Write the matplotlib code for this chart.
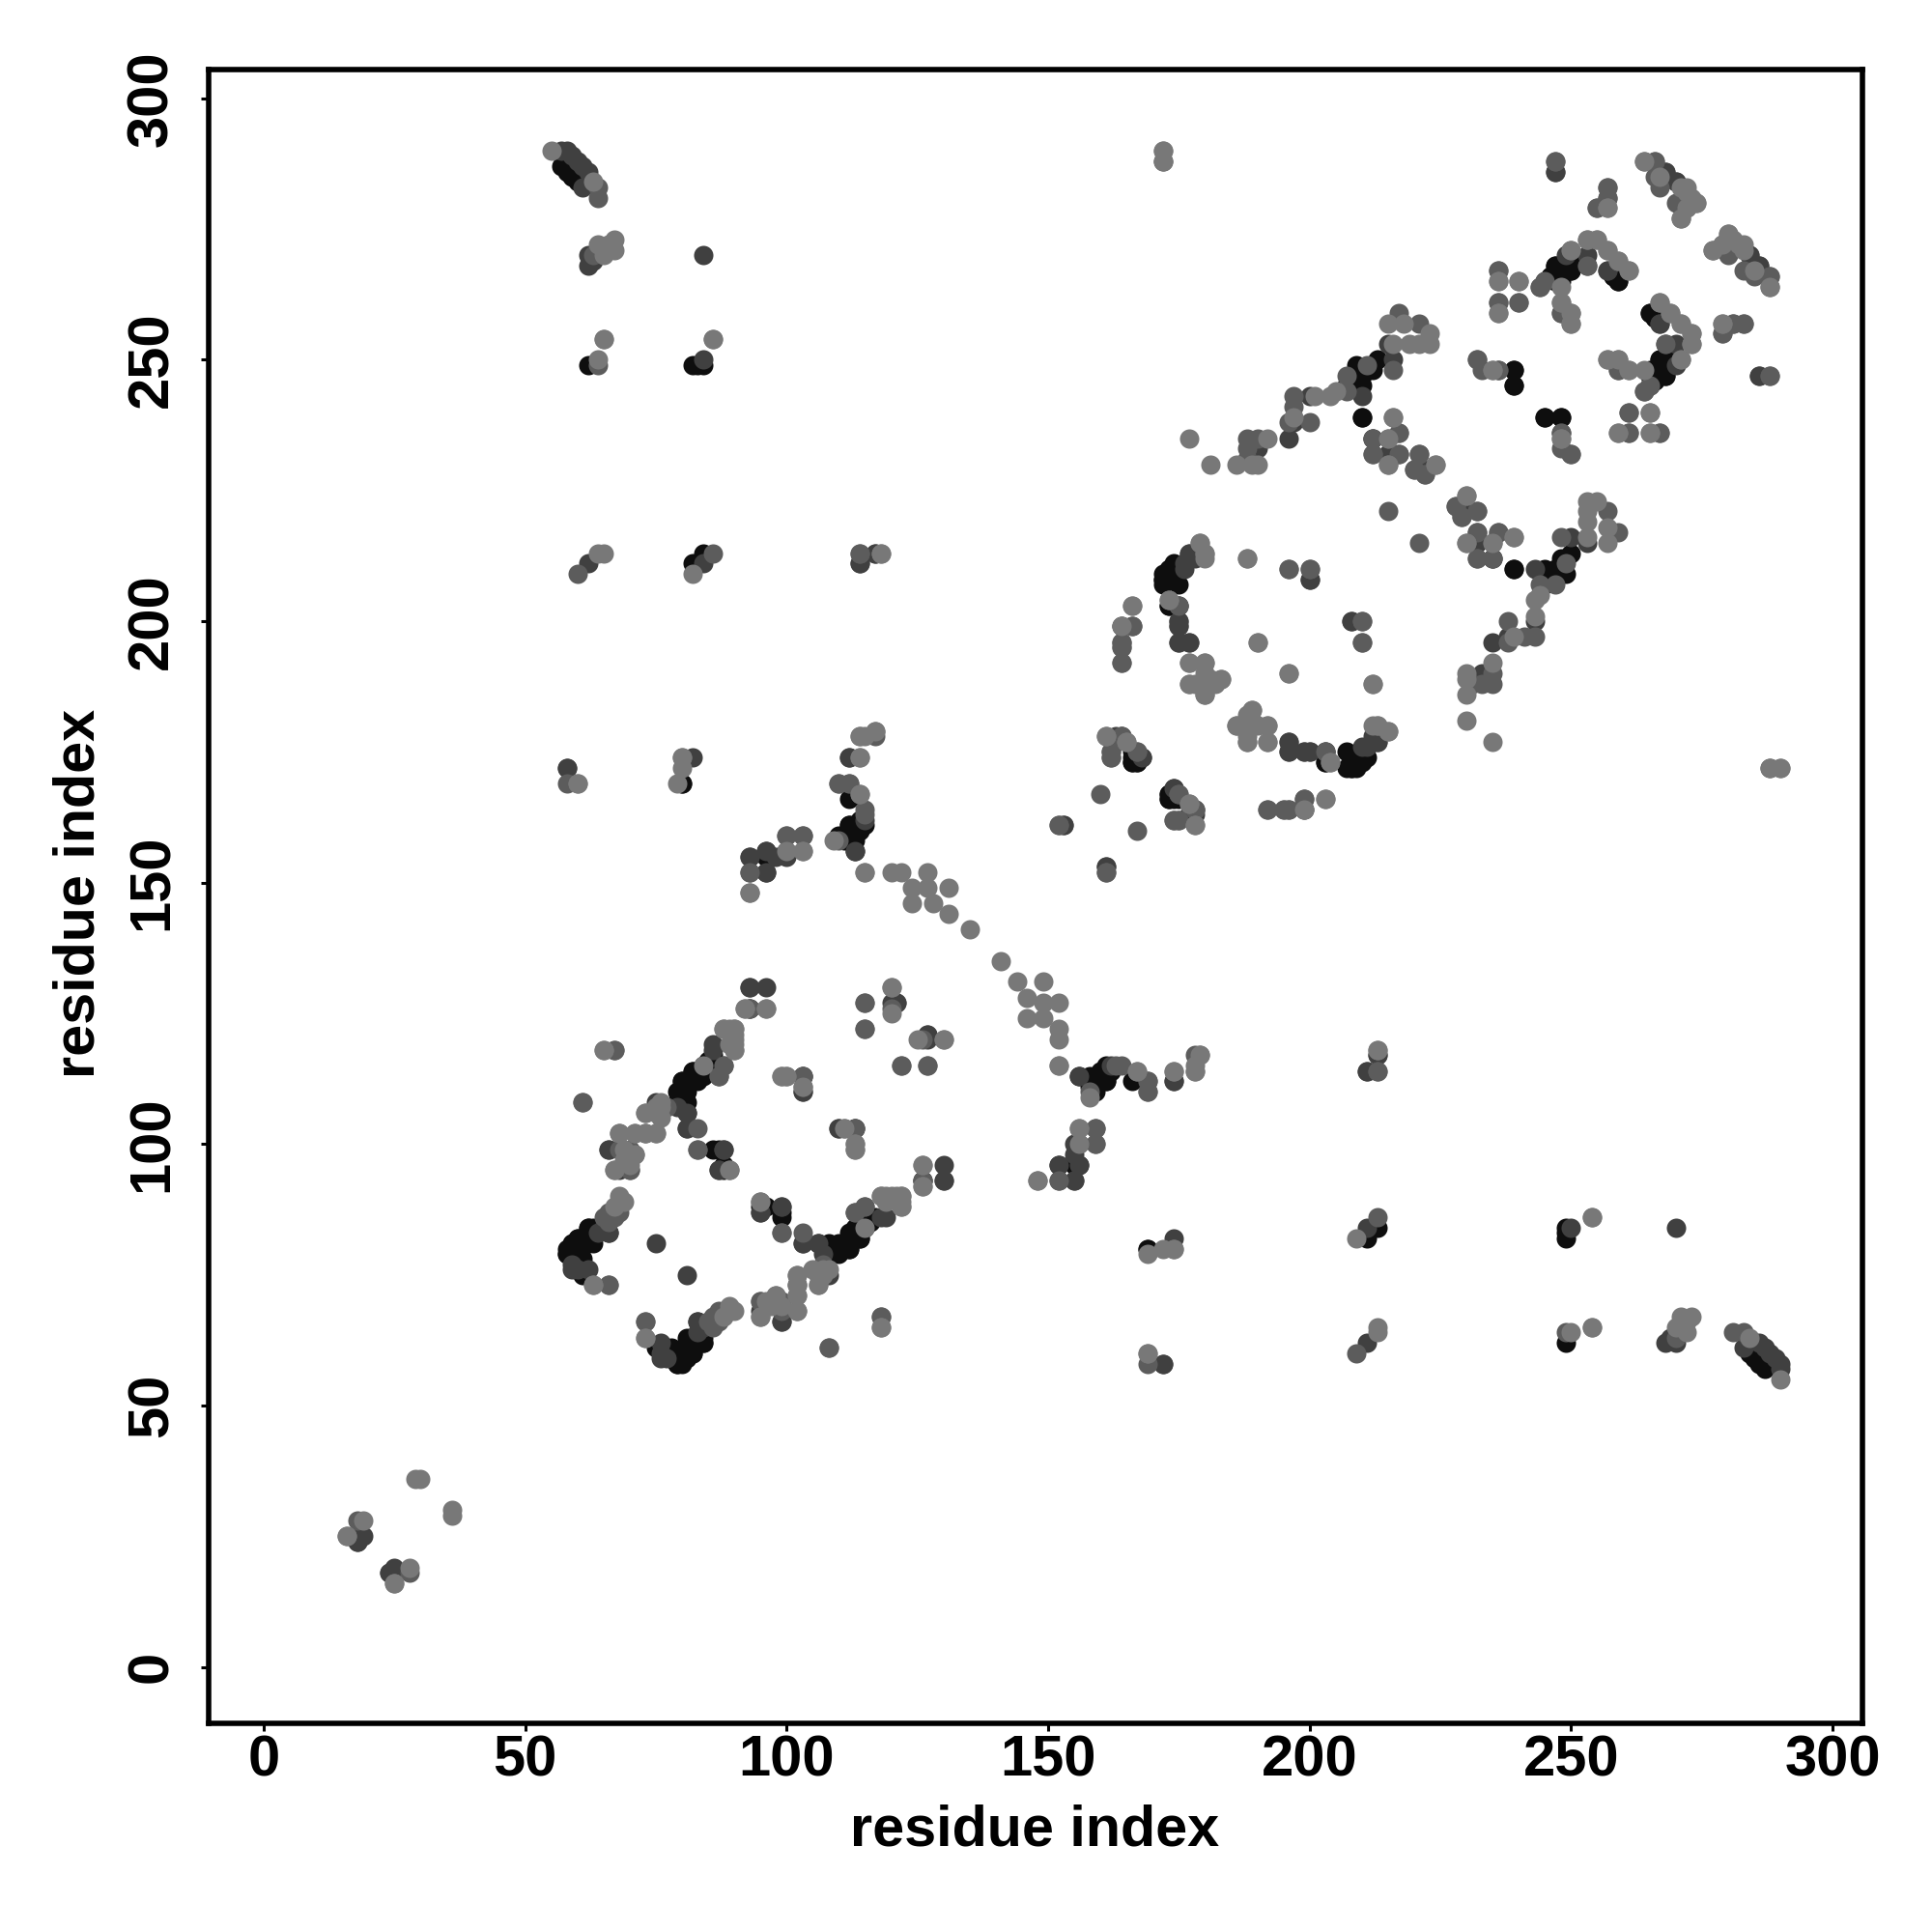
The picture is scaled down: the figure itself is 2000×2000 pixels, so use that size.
import matplotlib
matplotlib.use("Agg")
import matplotlib.pyplot as plt

plt.rcParams['font.family'] = ['Liberation Sans', 'DejaVu Sans']

# residue contacts (i, j), grouped by shade; the map is symmetric
contacts_black = [(58,80),(58,79),(59,81),(59,80),(60,82),(60,80),(61,82),(62,84),(62,82),(63,84),(63,81),
 (61,77),(61,75),(60,77),(79,58),(59,78),(60,78),(61,78),(80,59),(81,60),(82,60),(81,62),(82,62),(84,62),(83,63),(84,64),(85,65),(83,66),
 (82,114),(83,112),(80,112),(81,110),(79,110),(82,112),(81,108),(80,108),(84,113),
 (87,99),(88,95),(96,88),(99,86),
 (106,81),(108,79),(110,80),(112,80),(111,81),(114,82),(115,84),(113,83),(117,86),(116,85),
 (172,208),(174,210),(173,208),(175,210),(176,211),(173,203),(173,209),
 (209,249),(210,245),(207,245),(212,248),(213,250),(208,247),(209,246),(210,247),(211,248),
 (215,232),(210,239),(239,248),(239,245),(245,239),(248,239),(239,210),
 (247,268),(248,265),(250,267),(246,266),(247,266),(249,267),(259,265),(258,266),
 (265,259),(266,258),(267,250),(269,250),(265,247),(268,247),(265,245),(266,246),(266,248),(268,249),(267,247),
 (62,249),(82,249),(84,249),(83,249),(82,211),(84,213),(83,211),(84,212),(80,169),
 (166,175),(166,173),(167,173),(174,168),(173,166),(174,166),(174,167),(173,167),
 (207,172),(209,172),(211,174),(208,172),(210,173),(210,174),(207,175),(203,173),(209,173),
 (112,159),(114,160),(113,156),(110,159),(112,161),(113,158),(111,158),(113,160),
 (159,112),(161,115),(166,112),(160,112),(160,113),(162,114),(161,112),(169,80),
 (96,152),(96,156),(96,155),
 (57,287),(58,286),(59,285),(60,284)]

contacts_dark = [(64,83),(65,84),(66,83),(59,77),(60,76),(75,81),(62,76),(59,76),
 (86,118),(81,106),(81,103),(79,107),(66,99),(68,95),(88,99),(87,95),(103,110),(103,81),(93,130),(93,126),(95,87),(99,88),(110,103),(113,103),(103,113),
 (102,73),(99,66),(115,88),(120,127),(121,127),(127,121),(130,96),(126,93),(130,93),(108,75),(113,87),(119,86),
 (175,203),(175,200),(175,199),(175,196),(177,196),(177,213),(178,212),(200,208),(208,200),(196,177),(196,175),(199,175),(200,175),(203,175),(210,176),(213,177),(211,176),
 (197,238),(200,243),(210,243),(216,250),(215,253),(222,229),(232,217),(232,215),(190,233),(196,235),(212,235),(235,212),
 (249,270),(253,268),(257,267),(267,257),(270,253),(248,236),(247,286),(257,281),(268,286),(270,284),(284,270),(286,268),(286,247),
 (172,288),(57,290),(58,290),(59,289),(60,288),(61,287),(62,286),(61,283),(62,270),(62,268),(63,269),(84,270),
 (84,250),(62,211),(84,211),(114,211),(117,213),(58,172),(82,174),(112,174),(172,58),
 (163,178),(168,174),(177,163),(178,164),(161,153),(153,161),(199,166),(196,164),
 (156,113),(169,112),(174,112),(211,114),(213,117),(155,100),(156,96),(152,96),(155,93),(159,103),(93,152),(93,155),(98,155),(100,156),(115,162),
 (18,25),(18,24),(19,25),(24,18)]

contacts_mid = [(65,86),(66,87),(66,85),(67,86),(68,87),(66,73),(61,108),(87,113),(88,115),(77,107),(70,95),(71,98),(67,118),(83,103),(83,99),(89,95),(93,126),
 (99,83),(102,68),(99,70),(99,68),(98,70),(95,70),(73,66),(108,61),(118,67),(115,127),(115,122),(126,120),(122,115),(127,115),(111,103),(103,113),
 (164,199),(166,199),(164,196),(164,195),(164,192),(181,188),(210,200),(210,196),(186,180),(199,164),
 (175,203),(196,210),(200,210),(188,231),(188,233),(188,235),(190,235),(196,238),(200,238),(197,241),(197,243),(207,244),(207,247),(211,249),(216,248),(217,259),(221,257),
 (217,236),(212,232),(217,232),(221,232),(222,228),(220,229),(215,221),(228,222),(229,220),(232,221),(236,217),(235,215),(232,212),(235,212),(232,250),(236,248),(248,233),
 (236,267),(236,261),(240,265),(240,261),(247,288),(257,283),(255,279),(244,264),(245,265),(248,259),(268,253),(271,250),(264,244),(259,250),(259,248),(261,240),(261,236),(267,236),(250,232),
 (266,288),(266,285),(267,283),(272,279),(270,280),(277,271),(288,266),(288,264),(281,257),(283,257),(279,255),(288,247),
 (64,283),(64,281),(63,270),(64,249),(60,209),(86,213),(114,213),(58,169),(110,169),(112,169),(115,163),(93,148),(100,159),(103,159),
 (164,178),(162,174),(162,175),(167,175),(175,167),(174,162),(175,162),(178,164),(160,167),(152,161),(161,152),(192,164),(195,164),
 (158,110),(164,115),(169,110),(178,117),(179,117),(213,114),(159,100),(152,93),(18,28)]

contacts_light = [(68,90),(68,89),(69,89),(67,88),(63,73),(65,118),(92,126),(96,126),(88,122),(89,122),(90,122),(90,120),(90,118),(89,119),(84,115),(75,107),(73,106),(75,106),(76,107),
 (68,102),(71,102),(73,102),(75,102),(69,99),(70,98),(69,97),(67,95),(70,96),(99,113),(100,113),(103,111),(113,100),(113,99),
 (73,63),(102,75),(102,71),(98,71),(95,67),(106,73),(105,76),(108,76),(118,65),(120,130),(120,125),(130,120),(95,89),(126,96),(126,92),(119,90),(118,90),(121,90),(122,90),(122,88),
 (166,203),(177,192),(180,192),(177,188),(180,189),(183,189),(180,186),(178,188),(190,196),(196,190),(212,188),
 (189,183),(188,182),(188,177),(192,180),(192,177),(190,180),(189,181),(204,173),(213,180),(215,179),(212,180),(203,166),(199,164),
 (179,215),(180,213),(173,204),(188,212),(177,235),(181,230),(186,230),(189,230),(190,230),(192,235),(197,239),(201,243),(204,243),(205,244),
 (216,253),(215,257),(219,253),(221,253),(218,257),(223,255),(223,253),(216,239),(215,235),(215,230),(224,230),(230,224),(230,215),(239,216),
 (235,248),(236,265),(236,259),(257,279),(250,271),(253,273),(255,273),(257,271),(259,269),(261,267),(248,261),(250,259),(250,257),
 (267,261),(269,259),(271,257),(273,255),(273,253),(264,248),(257,250),(261,248),(265,240),(259,236),(265,236),(248,235),
 (264,288),(272,283),(274,280),(271,277),(273,281),(280,274),(279,272),(282,272),(283,271),(285,267),(279,257),
 (55,290),(63,284),(64,272),(67,273),(67,271),(66,272),(65,270),(172,290),(65,254),(64,250),(86,254),(64,213),(65,213),(82,209),(118,213),
 (60,169),(80,174),(80,172),(114,167),(114,174),(114,178),(115,178),(117,179),(109,158),(115,152),
 (103,156),(120,152),(122,152),(124,149),(124,146),(127,152),(127,149),(128,146),(131,149),(131,144),(135,141),
 (161,178),(165,177),(177,165),(178,161),(152,115),(167,114),(174,114),(178,114),(213,118),(156,103),(156,100),(148,93),
 (16,25),(19,28),(25,16),(29,36),(30,36),(169,60),(169,79),(174,80),(254,86),(254,65),(290,172),(288,172)]

shades = ['#0e0e0e', '#404040', '#5c5c5c', '#787878']
groups = [contacts_black, contacts_dark, contacts_mid, contacts_light]

x_ticks = [0, 50, 100, 150, 200, 250, 300]
y_ticks = [0, 50, 100, 150, 200, 250, 300]
axis_label = 'residue index'

fig = plt.figure(figsize=(10, 10), dpi=200)
ax = fig.add_axes([216/2000, 1-1784/2000, (1928-216)/2000, (1784-72)/2000])

for group, shade in zip(groups, shades):
    xs = [p[0] for p in group] + [p[1] for p in group]
    ys = [p[1] for p in group] + [p[0] for p in group]
    ax.scatter(xs, ys, s=52, c=shade, linewidths=0)

ax.set_xlim(-10.5, 305.7)
ax.set_ylim(-10.8, 305.5)
ax.set_xticks(x_ticks)
ax.set_yticks(y_ticks)
ax.tick_params(axis='both', length=3, width=1.1, labelsize=21.5)
ax.tick_params(axis='x', pad=1)
ax.tick_params(axis='y', pad=8)
for lab in ax.get_xticklabels() + ax.get_yticklabels():
    lab.set_fontweight('bold')
for lab in ax.get_yticklabels():
    lab.set_rotation(90)
    lab.set_va('center')
for s in ax.spines.values():
    s.set_linewidth(2)

fig.text(1071/2000, 1-1895/2000, axis_label, ha='center', va='center', fontsize=21.4, fontweight='bold')
fig.text(82/2000, 1-925/2000, axis_label, ha='center', va='center', rotation=90, fontsize=21.4, fontweight='bold')

fig.savefig('out.png', dpi=200)
